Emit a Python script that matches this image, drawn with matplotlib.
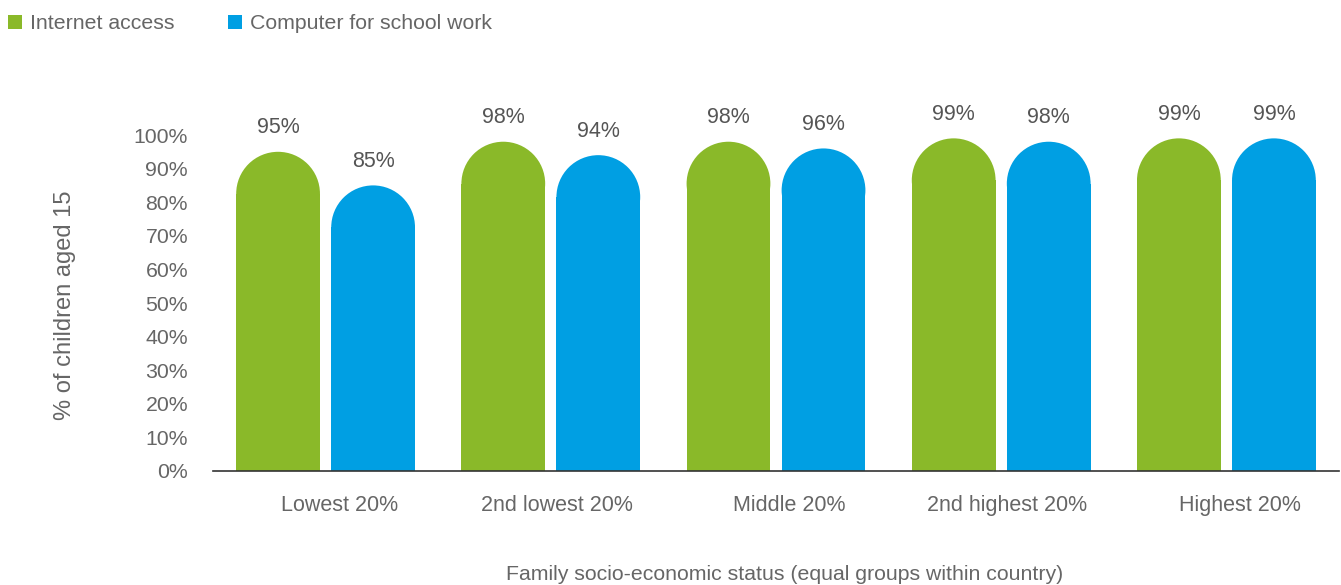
import matplotlib
matplotlib.use("Agg")
import matplotlib.pyplot as plt
from matplotlib.patches import Ellipse, Rectangle
import numpy as np

categories = ["Lowest 20%", "2nd lowest 20%", "Middle 20%", "2nd highest 20%", "Highest 20%"]
internet = [95, 98, 98, 99, 99]
computer = [85, 94, 96, 98, 99]
series_names = ["Internet access", "Computer for school work"]
yticks = [0, 10, 20, 30, 40, 50, 60, 70, 80, 90, 100]

GREEN = "#8ab929"
BLUE = "#009fe3"
TXT = "#666666"
FONT = "Liberation Sans"

W, H = 1341, 585
fig = plt.figure(figsize=(W / 100, H / 100), dpi=100)
ax_l, ax_r, ax_b, ax_t = 213, 1339, 471, 135
ax = fig.add_axes([ax_l / W, 1 - ax_b / H, (ax_r - ax_l) / W, (ax_b - ax_t) / H])
ax.set_xlim(-0.5, 4.5)
ax.set_ylim(0, 100)

x = np.arange(len(categories))
bw = 0.372
off = 0.211
px_per_x = (ax_r - ax_l) / 5.0
px_per_y = (ax_b - ax_t) / 100.0
r_px = bw * px_per_x / 2
ry = r_px / px_per_y

for vals, col, sgn in [(internet, GREEN, -1), (computer, BLUE, 1)]:
    xs = x + sgn * off
    heights = [v - ry for v in vals]
    ax.bar(xs, heights, width=bw, color=col, linewidth=0, clip_on=False)
    for xi, v in zip(xs, vals):
        e = Ellipse((xi, v - ry), width=bw, height=2 * ry, facecolor=col,
                    edgecolor="none", clip_on=False)
        ax.add_patch(e)
        ax.annotate(f"{v}%", (xi, v), xytext=(0, 24), textcoords="offset pixels",
                    ha="center", va="center", fontsize=15.5, color="#555555",
                    family=FONT, annotation_clip=False)

for s in ["top", "right", "left"]:
    ax.spines[s].set_visible(False)
ax.spines["bottom"].set_color("#333333")
ax.spines["bottom"].set_linewidth(1.2)

ax.set_yticks(yticks)
ax.set_yticklabels([f"{t}%" for t in yticks], family=FONT, fontsize=15.3, color=TXT)
ax.tick_params(axis="y", length=0, pad=18)
label_shift = [0.064, 0.028, 0.058, 0.026, 0.06]
ax.set_xticks(x + np.array(label_shift))
ax.set_xticklabels(categories, family=FONT, fontsize=15.5, color=TXT)
ax.tick_params(axis="x", length=0, pad=17)

fig.text(65 / W, 1 - 305 / H, "% of children aged 15", rotation=90, ha="center",
         va="center", fontsize=17, color=TXT, family=FONT)
fig.text(785 / W, 1 - 574 / H, "Family socio-economic status (equal groups within country)",
         ha="center", va="center", fontsize=15.3, color=TXT, family=FONT)

# legend
for (lx, tx), name, col in zip([(8, 30), (228, 250)], series_names, [GREEN, BLUE]):
    fig.patches.append(Rectangle((lx / W, 1 - 29 / H), 14 / W, 14 / H, facecolor=col,
                                 edgecolor="none", transform=fig.transFigure))
    fig.text(tx / W, 1 - 23.5 / H, name, ha="left", va="center", fontsize=15.3,
             color=TXT, family=FONT)

fig.savefig("out.png", dpi=100)
